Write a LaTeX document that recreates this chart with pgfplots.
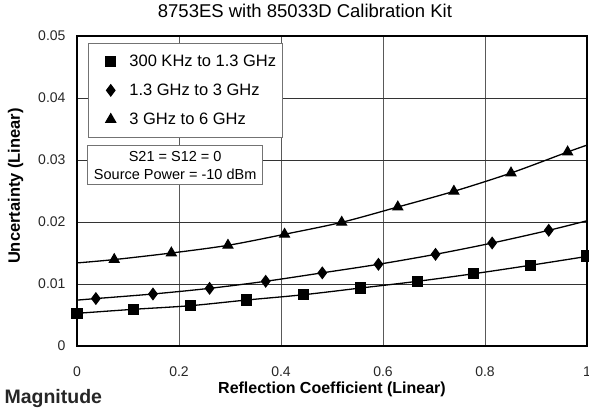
\documentclass[border=0pt]{standalone}
\usepackage{pgfplots}
\pgfplotsset{compat=1.18}
\usepackage{fontspec}
\setmainfont{Liberation Sans}
\begin{document}
\begin{tikzpicture}
\useasboundingbox (-77pt,-62pt) rectangle (512pt,346pt);
\begin{axis}[
  name=ax,
  at={(0,0)}, anchor=south west,
  scale only axis, width=510pt, height=310pt,
  xmin=0, xmax=1, ymin=0, ymax=0.05,
  scaled y ticks=false,
  xtick={0,0.2,0.4,0.6,0.8,1}, xticklabels={0,0.2,0.4,0.6,0.8,1},
  ytick={0,0.01,0.02,0.03,0.04,0.05}, yticklabels={0,0.01,0.02,0.03,0.04,0.05},
  major tick length=0pt,
  grid=major,
  x grid style={line width=0.9pt, black!65},
  y grid style={line width=0.9pt, black!80},
  axis line style={line width=1.4pt, black},
  tick label style={font=\fontsize{14}{16}\selectfont, text=black!85},
  xticklabel style={yshift=-17pt},
  yticklabel style={xshift=-8pt},
  title={8753ES with 85033D Calibration Kit},
  title style={at={(0.447,1)}, anchor=base, yshift=12.5pt, font=\fontsize{18.5}{21}\selectfont},
  xlabel={Reflection Coefficient (Linear)},
  xlabel style={at={(0.5,0)}, anchor=base, yshift=-47pt, font=\bfseries\fontsize{16}{19}\selectfont},
  ylabel={Uncertainty (Linear)},
  ylabel style={at={(axis description cs:-0.1204,0.516)}, anchor=center, font=\bfseries\fontsize{16.5}{19}\selectfont},
  legend style={at={(0.021,0.976)}, anchor=north west, draw=black!55, line width=0.8pt,
    font=\fontsize{16.5}{19}\selectfont, row sep=12pt, inner xsep=4pt, inner ysep=9pt},
  legend image code/.code={\path (-18pt,0pt) (16pt,0pt); \draw[#1] plot coordinates {(0pt,0pt)};},
  legend cell align=left,
  every axis plot/.append style={line width=1.3pt, black},
]
% curves (drawn through the markers)
\addplot[smooth, tension=0.5, forget plot] coordinates {
 (0,0.00527) (0.111,0.00592) (0.222,0.0065) (0.333,0.00742) (0.444,0.00827)
 (0.556,0.00935) (0.667,0.01043) (0.778,0.01166) (0.889,0.01302) (1.0,0.01445)};
\addplot[smooth, tension=0.5, forget plot] coordinates {
 (0,0.0074) (0.037,0.00765) (0.149,0.00839) (0.26,0.0093) (0.37,0.01044) (0.481,0.0118)
 (0.591,0.01318) (0.703,0.01479) (0.814,0.01661) (0.925,0.01866) (1.0,0.0202)};
\addplot[smooth, tension=0.5, forget plot] coordinates {
 (0,0.0134) (0.073,0.01394) (0.185,0.015) (0.296,0.01624) (0.407,0.01802) (0.519,0.01995)
 (0.629,0.02242) (0.739,0.02495) (0.851,0.0279) (0.962,0.03129) (1.0,0.0324)};
% markers
\addplot[only marks, mark=square*, mark size=5pt] coordinates {
 (0,0.00527) (0.111,0.00592) (0.222,0.0065) (0.333,0.00742) (0.444,0.00827)
 (0.556,0.00935) (0.667,0.01043) (0.778,0.01166) (0.889,0.01302) (1.0,0.01452)};
\addlegendentry{300 KHz to 1.3 GHz}
\addplot[only marks, mark=diamond*, mark size=5.5pt] coordinates {
 (0.037,0.00765) (0.149,0.00839) (0.26,0.0093) (0.37,0.01044) (0.481,0.0118)
 (0.591,0.01318) (0.703,0.01479) (0.814,0.01661) (0.925,0.01866)};
\addlegendentry{1.3 GHz to 3 GHz}
\addplot[only marks, mark=triangle*, mark size=5.5pt] coordinates {
 (0.073,0.01394) (0.185,0.015) (0.296,0.01624) (0.407,0.01802) (0.519,0.01995)
 (0.629,0.02242) (0.739,0.02495) (0.851,0.0279) (0.962,0.03129)};
\addlegendentry{3 GHz to 6 GHz}
\node[draw=black!55, line width=0.8pt, fill=white, minimum width=175pt, minimum height=39pt,
  inner sep=0pt, align=center, font=\fontsize{14.5}{18.4}\selectfont]
  at (axis description cs:0.1925,0.5826) {S21 = S12 = 0\\Source Power = -10 dBm};
\end{axis}
\node[anchor=base west, font=\bfseries\fontsize{19.5}{22}\selectfont, text=black!85]
  at ([xshift=-76pt, yshift=-57pt]ax.south west) {Magnitude};
\end{tikzpicture}
\end{document}
